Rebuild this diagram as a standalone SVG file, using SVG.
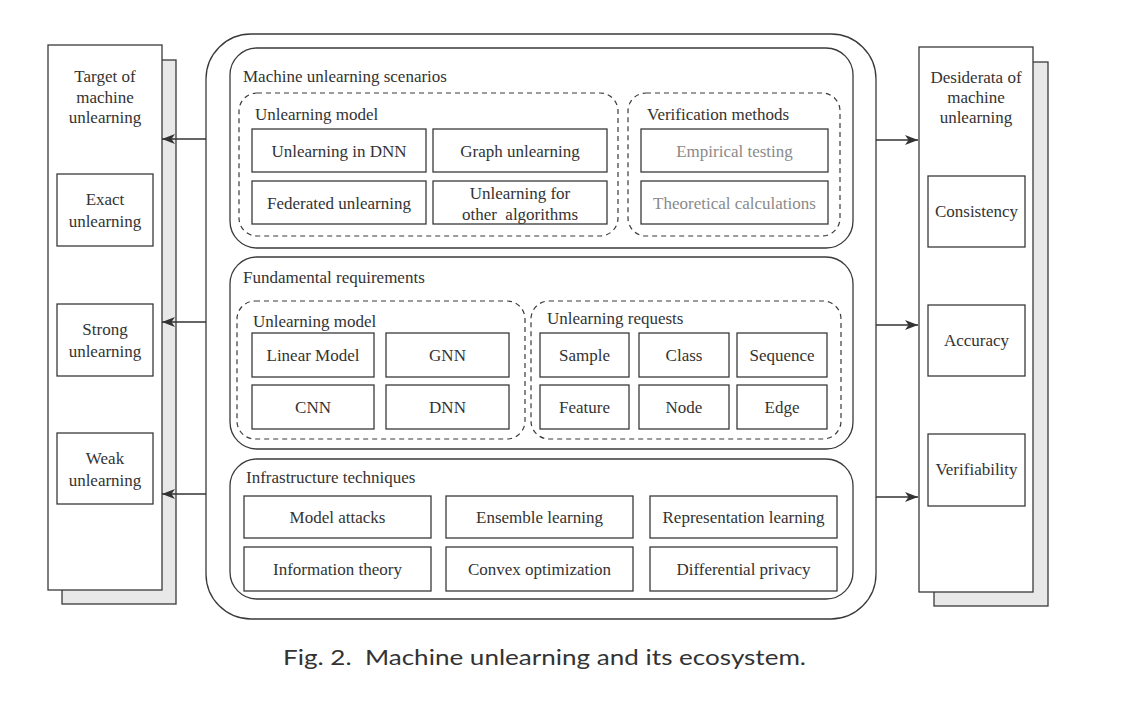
<svg xmlns="http://www.w3.org/2000/svg" width="1132" height="714" viewBox="0 0 1132 714">
<style>
text{font-family:"Liberation Serif","Times New Roman",serif;font-size:17px;fill:#333}
.c{text-anchor:middle}
.g{fill:#8a8a8a}
.box{fill:#fff;stroke:#3a3a3a;stroke-width:1.3}
.back{fill:#e8e8e8;stroke:#3a3a3a;stroke-width:1.3}
.sec{fill:none;stroke:#3a3a3a;stroke-width:1.3}
.dash{fill:none;stroke:#3a3a3a;stroke-width:1.2;stroke-dasharray:5 4}
.arr{stroke:#333;stroke-width:1.3;fill:none;marker-end:url(#ah)}
.cap{font-family:Lato,"Open Sans",sans-serif;font-size:22px;fill:#333;white-space:pre}
</style>
<defs>
<marker id="ah" markerUnits="userSpaceOnUse" markerWidth="14" markerHeight="12" refX="13" refY="5" orient="auto">
<path d="M0,0 L13,5 L0,10 L3.5,5 Z" fill="#333"/>
</marker>
</defs>
<rect width="1132" height="714" fill="#fff"/>

<g id="target-panel">
<rect class="back" x="62" y="60" width="114" height="544"/>
<rect class="box" x="48" y="45" width="114" height="545"/>
<text class="c" x="105" y="82">Target of</text>
<text class="c" x="105" y="103">machine</text>
<text class="c" x="105" y="123">unlearning</text>
</g>
<g id="exact">
<rect class="box" x="57" y="174" width="96" height="72"/>
<text class="c" x="105" y="205">Exact</text>
<text class="c" x="105" y="227">unlearning</text>
</g>
<g id="strong">
<rect class="box" x="57" y="304" width="96" height="72"/>
<text class="c" x="105" y="335">Strong</text>
<text class="c" x="105" y="357">unlearning</text>
</g>
<g id="weak">
<rect class="box" x="57" y="433" width="96" height="71"/>
<text class="c" x="105" y="464">Weak</text>
<text class="c" x="105" y="486">unlearning</text>
</g>

<g id="desiderata-panel">
<rect class="back" x="934" y="62" width="114" height="544"/>
<rect class="box" x="919" y="47" width="114" height="545"/>
<text class="c" x="976" y="83">Desiderata of</text>
<text class="c" x="976" y="103">machine</text>
<text class="c" x="976" y="123">unlearning</text>
</g>
<g id="consistency">
<rect class="box" x="928" y="176" width="97" height="71"/>
<text class="c" x="976.5" y="217">Consistency</text>
</g>
<g id="accuracy">
<rect class="box" x="928" y="305" width="97" height="71"/>
<text class="c" x="976.5" y="346">Accuracy</text>
</g>
<g id="verifiability">
<rect class="box" x="928" y="434" width="97" height="72"/>
<text class="c" x="976.5" y="475">Verifiability</text>
</g>

<g id="ecosystem">
<rect class="sec" x="206" y="34" width="670" height="585" rx="45"/>
</g>

<g id="scenarios">
<rect class="sec" x="230" y="48" width="623" height="200" rx="27"/>
<text x="243" y="82">Machine unlearning scenarios</text>
<rect class="dash" x="239" y="93" width="379" height="143" rx="18"/>
<text x="255" y="120">Unlearning model</text>
<rect class="dash" x="628" y="93" width="212" height="143" rx="18"/>
<text x="647" y="120">Verification methods</text>
</g>
<g id="unlearning-dnn"><rect class="box" x="252" y="129" width="174" height="43"/><text class="c" x="339" y="156.5">Unlearning in DNN</text></g>
<g id="graph-unlearning"><rect class="box" x="433" y="129" width="174" height="43"/><text class="c" x="520" y="156.5">Graph unlearning</text></g>
<g id="federated"><rect class="box" x="252" y="181" width="174" height="43"/><text class="c" x="339" y="208.5">Federated unlearning</text></g>
<g id="other-algorithms"><rect class="box" x="433" y="181" width="174" height="43"/><text class="c" x="520" y="199">Unlearning for</text><text class="c" x="520" y="220" style="white-space:pre">other  algorithms</text></g>
<g id="empirical"><rect class="box" x="641" y="129" width="187" height="43"/><text class="c g" x="734.5" y="156.5">Empirical testing</text></g>
<g id="theoretical"><rect class="box" x="641" y="181" width="187" height="43"/><text class="c g" x="734.5" y="208.5">Theoretical calculations</text></g>

<g id="fundamental">
<rect class="sec" x="230" y="257" width="623" height="192" rx="27"/>
<text x="243" y="283">Fundamental requirements</text>
<rect class="dash" x="237" y="301" width="288" height="138" rx="18"/>
<text x="253" y="327">Unlearning model</text>
<rect class="dash" x="531" y="301" width="310" height="138" rx="18"/>
<text x="547" y="324">Unlearning requests</text>
</g>
<g id="linear"><rect class="box" x="252" y="333" width="122" height="44"/><text class="c" x="313" y="361">Linear Model</text></g>
<g id="gnn"><rect class="box" x="386" y="333" width="123" height="44"/><text class="c" x="447.5" y="361">GNN</text></g>
<g id="cnn"><rect class="box" x="252" y="385" width="122" height="44"/><text class="c" x="313" y="413">CNN</text></g>
<g id="dnn"><rect class="box" x="386" y="385" width="123" height="44"/><text class="c" x="447.5" y="413">DNN</text></g>
<g id="sample"><rect class="box" x="540" y="333" width="89" height="44"/><text class="c" x="584.5" y="361">Sample</text></g>
<g id="class"><rect class="box" x="639" y="333" width="90" height="44"/><text class="c" x="684" y="361">Class</text></g>
<g id="sequence"><rect class="box" x="737" y="333" width="90" height="44"/><text class="c" x="782" y="361">Sequence</text></g>
<g id="feature"><rect class="box" x="540" y="385" width="89" height="44"/><text class="c" x="584.5" y="413">Feature</text></g>
<g id="node"><rect class="box" x="639" y="385" width="90" height="44"/><text class="c" x="684" y="413">Node</text></g>
<g id="edge"><rect class="box" x="737" y="385" width="90" height="44"/><text class="c" x="782" y="413">Edge</text></g>

<g id="infrastructure">
<rect class="sec" x="230" y="459" width="623" height="140" rx="27"/>
<text x="246" y="483">Infrastructure techniques</text>
</g>
<g id="model-attacks"><rect class="box" x="244" y="496" width="187" height="42"/><text class="c" x="337.5" y="523">Model attacks</text></g>
<g id="ensemble"><rect class="box" x="446" y="496" width="187" height="42"/><text class="c" x="539.5" y="523">Ensemble learning</text></g>
<g id="representation"><rect class="box" x="650" y="496" width="187" height="42"/><text class="c" x="743.5" y="523">Representation learning</text></g>
<g id="information"><rect class="box" x="244" y="547" width="187" height="44"/><text class="c" x="337.5" y="575">Information theory</text></g>
<g id="convex"><rect class="box" x="446" y="547" width="187" height="44"/><text class="c" x="539.5" y="575">Convex optimization</text></g>
<g id="dp"><rect class="box" x="650" y="547" width="187" height="44"/><text class="c" x="743.5" y="575">Differential privacy</text></g>

<g id="connectors">
<line class="arr" x1="206" y1="139" x2="162" y2="139"/>
<line class="arr" x1="206" y1="322" x2="162" y2="322"/>
<line class="arr" x1="206" y1="494" x2="162" y2="494"/>
<line class="arr" x1="876" y1="140" x2="918" y2="140"/>
<line class="arr" x1="876" y1="325" x2="918" y2="325"/>
<line class="arr" x1="876" y1="497" x2="918" y2="497"/>
</g>

<text class="cap" x="283" y="665" textLength="523" lengthAdjust="spacingAndGlyphs">Fig. 2.  Machine unlearning and its ecosystem.</text>
</svg>
